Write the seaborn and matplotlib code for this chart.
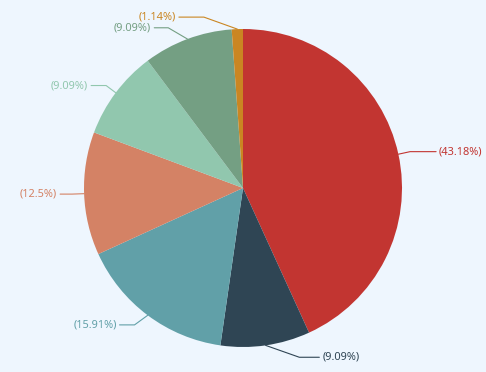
import matplotlib
matplotlib.use("Agg")
import matplotlib.pyplot as plt
import seaborn as sns
import numpy as np

# 数据
counts = [38, 8, 14, 11, 8, 8, 1]
colors = ['#c23531', '#2f4554', '#61a0a8', '#d48265', '#91c7ae', '#749f83', '#ca8622']

# 标签引导线样式 (拥挤处手动偏移)
elbow_shift = [0, 32, -6, 0, 0, -15, -33]
len2 = [26, 20, 15, 12, 15, 14, 25]
len1 = 12

sns.set_style("white")
plt.rcParams['font.family'] = ['Noto Sans', 'DejaVu Sans']

W, H = 486, 372
bg = '#eef6fe'
fig = plt.figure(figsize=(W / 100, H / 100), dpi=100, facecolor=bg)
ax = fig.add_axes([0, 0, 1, 1])
ax.set_facecolor(bg)

cx, cy, r = 243, H - 188, 159
wedges, _ = ax.pie(counts, colors=colors, startangle=90, counterclock=False,
                   center=(cx, cy), radius=r, wedgeprops=dict(linewidth=0))

total = sum(counts)
for i, w in enumerate(wedges):
    ang = np.deg2rad((w.theta1 + w.theta2) / 2)
    dx, dy = np.cos(ang), np.sin(ang)
    x0, y0 = cx + r * dx, cy + r * dy
    x1, y1 = cx + (r + len1) * dx + elbow_shift[i], cy + (r + len1) * dy
    side = 1 if dx > 0 else -1
    x2 = x1 + side * len2[i]
    ax.plot([x0, x1, x2], [y0, y1, y1], color=colors[i], lw=0.8)
    pct = round(counts[i] / total * 100, 2)
    ax.text(x2 + side * 3, y1, f"({pct:g}%)", color=colors[i], fontsize=7.9,
            ha='left' if side > 0 else 'right', va='center')

ax.set_xlim(0, W)
ax.set_ylim(0, H)
ax.set_aspect('equal')
ax.axis('off')
fig.savefig("out.png", dpi=100, facecolor=bg)
